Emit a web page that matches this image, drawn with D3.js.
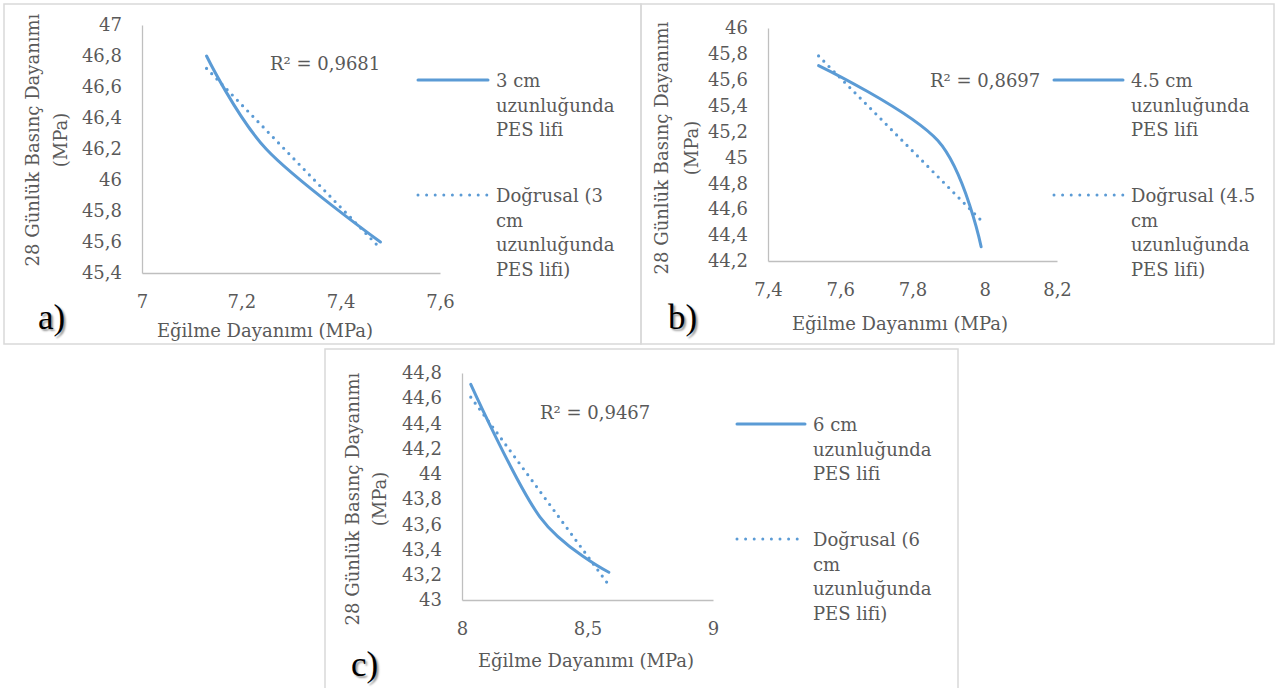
<!DOCTYPE html>
<html lang="tr">
<head>
<meta charset="UTF-8" />
<title>Eğilme Dayanımı - Basınç Dayanımı</title>
<script src="https://d3js.org/d3.v7.min.js"></script>
<style>
  body { margin: 0; background: #fff; }
  svg text { font-family: "DejaVu Serif", serif; fill: #595959; font-size: 18px; }
  .tag { font-family: "Liberation Serif", serif; fill: #000; font-size: 35px; }
</style>
</head>
<body>
<svg id="chart"></svg>
<script>
const width = 1275, height = 688;

// a) 3 cm
const flexA = [7.13, 7.25, 7.48];
const compA = [46.8, 46.2, 45.6];
const xTicksA = [7, 7.2, 7.4, 7.6];
const yTicksA = [45.4, 45.6, 45.8, 46, 46.2, 46.4, 46.6, 46.8, 47];
const r2A = "R² = 0,9681";
const legendA = [["3 cm", "uzunluğunda", "PES lifi"], ["Doğrusal (3", "cm", "uzunluğunda", "PES lifi)"]];

// b) 4.5 cm
const flexB = [7.54, 7.87, 7.99];
const compB = [45.71, 45.13, 44.31];
const xTicksB = [7.4, 7.6, 7.8, 8, 8.2];
const yTicksB = [44.2, 44.4, 44.6, 44.8, 45, 45.2, 45.4, 45.6, 45.8, 46];
const r2B = "R² = 0,8697";
const legendB = [["4.5 cm", "uzunluğunda", "PES lifi"], ["Doğrusal (4.5", "cm", "uzunluğunda", "PES lifi)"]];

// c) 6 cm
const flexC = [8.035, 8.31, 8.585];
const compC = [44.71, 43.66, 43.22];
const xTicksC = [8, 8.5, 9];
const yTicksC = [43, 43.2, 43.4, 43.6, 43.8, 44, 44.2, 44.4, 44.6, 44.8];
const r2C = "R² = 0,9467";
const legendC = [["6 cm", "uzunluğunda", "PES lifi"], ["Doğrusal (6", "cm", "uzunluğunda", "PES lifi)"]];

const xTitle = "Eğilme Dayanımı (MPa)";
const yTitleA = ["28 Günlük Basınç Dayanımı", "(MPa)"];
const yTitleC = ["28 Günlük  Basınç Dayanımı", "(MPa)"];

const blue = "#5b9bd5";
const comma = v => String(v).replace(".", ",");

const panels = [
  { tag: "a)", xs: flexA, ys: compA, xTicks: xTicksA, yTicks: yTicksA, r2: r2A, legend: legendA, yTitle: yTitleA,
    frame: [4, 4, 641, 344], plot: [142, 440, 25, 273],
    r2Pos: [270, 70], legPos: [418, 496, 80], xTitlePos: [265, 337], yTitlePos: [39, 67, 140], tagPos: [38, 329] },
  { tag: "b)", xs: flexB, ys: compB, xTicks: xTicksB, yTicks: yTicksB, r2: r2B, legend: legendB, yTitle: yTitleA,
    frame: [641, 4, 1274, 344], plot: [768, 1057, 28, 261],
    r2Pos: [930, 87], legPos: [1054, 1131, 80], xTitlePos: [900, 330], yTitlePos: [668, 698, 148], tagPos: [668, 329] },
  { tag: "c)", xs: flexC, ys: compC, xTicks: xTicksC, yTicks: yTicksC, r2: r2C, legend: legendC, yTitle: yTitleC,
    frame: [325, 349, 958, 700], plot: [462, 713, 373, 600],
    r2Pos: [540, 419], legPos: [737, 813, 424], xTitlePos: [586, 667], yTitlePos: [359, 386, 499], tagPos: [351, 676] }
];

const svg = d3.select("#chart").attr("width", width).attr("height", height);

panels.forEach(p => {
  const [fx0, fy0, fx1, fy1] = p.frame;
  svg.append("rect")
    .attr("x", fx0).attr("y", fy0)
    .attr("width", fx1 - fx0).attr("height", fy1 - fy0)
    .attr("fill", "none").attr("stroke", "#d9d9d9").attr("stroke-width", 1.5);

  const [left, right, top, bottom] = p.plot;
  const x = d3.scaleLinear().domain(d3.extent(p.xTicks)).range([left, right]);
  const y = d3.scaleLinear().domain(d3.extent(p.yTicks)).range([bottom, top]);

  const g = svg.append("g");

  const xAxis = g.append("g")
    .attr("transform", `translate(0,${bottom})`)
    .call(d3.axisBottom(x).tickValues(p.xTicks).tickSize(0).tickPadding(22).tickFormat(comma));
  const yAxis = g.append("g")
    .attr("transform", `translate(${left},0)`)
    .call(d3.axisLeft(y).tickValues(p.yTicks).tickSize(0).tickPadding(20).tickFormat(comma));
  [xAxis, yAxis].forEach(a => {
    a.select(".domain").attr("stroke", "#bfbfbf").attr("stroke-width", 1.3);
    a.selectAll("text").attr("fill", null);
    a.attr("font-family", null).attr("font-size", null);
  });

  // linear trend (least squares on the points)
  const mx = d3.mean(p.xs), my = d3.mean(p.ys);
  const sxy = d3.sum(p.xs, (v, i) => (v - mx) * (p.ys[i] - my));
  const sxx = d3.sum(p.xs, v => (v - mx) ** 2);
  const slope = sxy / sxx, icpt = my - slope * mx;
  const xr = d3.extent(p.xs);

  g.append("path")
    .datum(xr.map(v => [v, icpt + slope * v]))
    .attr("fill", "none").attr("stroke", blue)
    .attr("stroke-width", 3.2).attr("stroke-linecap", "round")
    .attr("stroke-dasharray", "0 7.4")
    .attr("d", d3.line().x(d => x(d[0])).y(d => y(d[1])));

  g.append("path")
    .datum(p.xs.map((v, i) => [v, p.ys[i]]))
    .attr("fill", "none").attr("stroke", blue)
    .attr("stroke-width", 3).attr("stroke-linecap", "round")
    .attr("d", d3.line().x(d => x(d[0])).y(d => y(d[1])).curve(d3.curveCardinal.tension(0)));

  g.append("text").attr("x", p.r2Pos[0]).attr("y", p.r2Pos[1]).text(p.r2);

  // legend
  const [lx0, ltx, ly] = p.legPos;
  const lineGap = 24.5;
  p.legend.forEach((lines, k) => {
    const yy = ly + k * 115;
    g.append("line")
      .attr("x1", lx0).attr("x2", ltx - 8).attr("y1", yy).attr("y2", yy)
      .attr("stroke", blue).attr("stroke-width", k === 0 ? 3 : 3)
      .attr("stroke-linecap", "round")
      .attr("stroke-dasharray", k === 0 ? null : "0 8.6");
    const t = g.append("text").attr("x", ltx).attr("y", yy + 7);
    lines.forEach((s, i) => t.append("tspan").attr("x", ltx).attr("dy", i ? lineGap : 0).text(s));
  });

  // axis titles
  g.append("text").attr("x", p.xTitlePos[0]).attr("y", p.xTitlePos[1])
    .attr("text-anchor", "middle").text(xTitle);
  const [tx1, tx2, tcy] = p.yTitlePos;
  [tx1, tx2].forEach((tx, i) => {
    g.append("text")
      .attr("transform", `translate(${tx},${tcy}) rotate(-90)`)
      .attr("text-anchor", "middle").text(p.yTitle[i]);
  });

  g.append("text").attr("class", "tag")
    .attr("x", p.tagPos[0]).attr("y", p.tagPos[1])
    .style("text-shadow", "2px 2px 2px #9a9a9a")
    .text(p.tag);
});
</script>
</body>
</html>
